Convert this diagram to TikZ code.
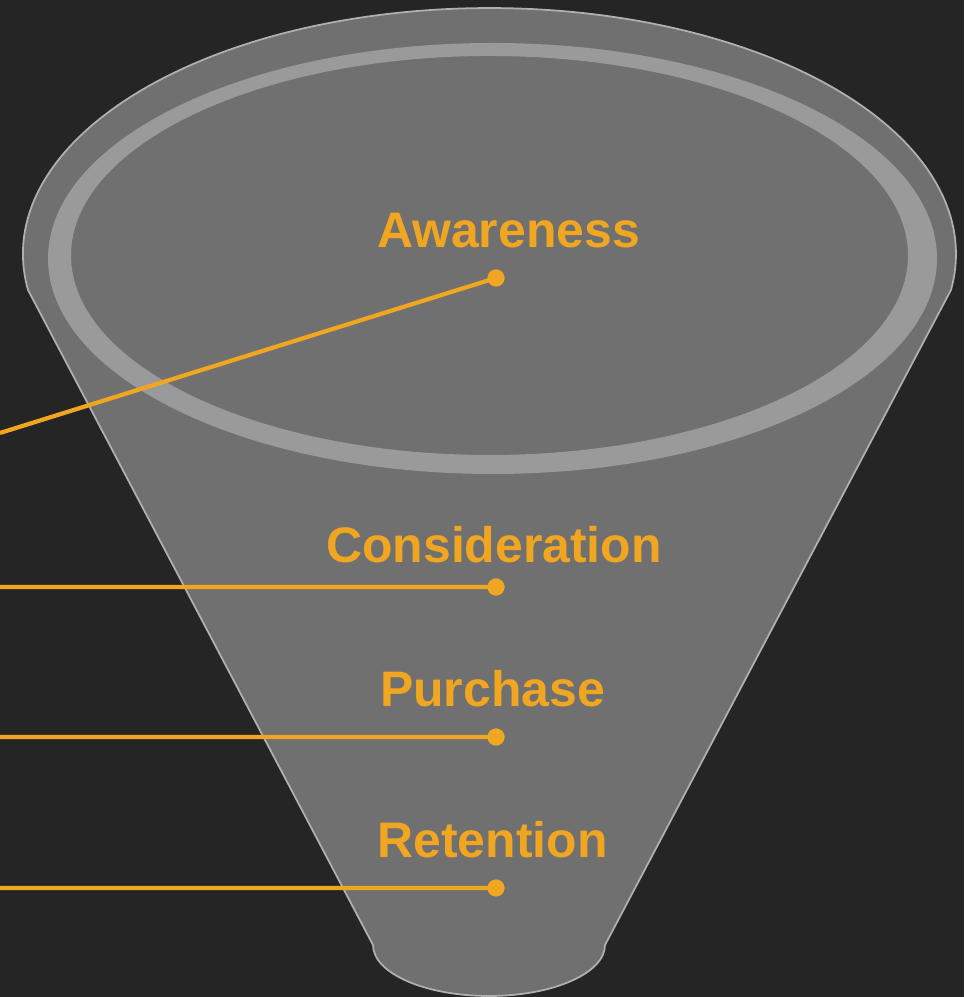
\documentclass[tikz,border=0pt]{standalone}
\usepackage{fontspec}
\setmainfont{Liberation Sans}
\usepackage{xcolor}
\definecolor{bgdark}{RGB}{37,37,37}
\definecolor{funnelgray}{RGB}{112,112,112}
\definecolor{ringgray}{RGB}{154,154,154}
\definecolor{rimline}{RGB}{176,176,176}
\definecolor{leadorange}{RGB}{241,166,33}
\usetikzlibrary{calc}

\begin{document}
\begin{tikzpicture}[
     funnel/.style = {fill=funnelgray, draw=rimline, line width=0.5pt},
       ring/.style = {fill=ringgray, even odd rule},
      stage/.style = {text=leadorange, anchor=base, inner sep=0pt,
                      font=\fontsize{14.2}{17}\selectfont\bfseries},
       lead/.style = {draw=leadorange, line width=1.2pt},
        dot/.style = {circle, fill=leadorange, inner sep=0pt, minimum size=0.17cm}
                    ]
\useasboundingbox (0,0) rectangle (9.64,9.97);
\fill[bgdark] (0,0) rectangle (9.64,9.97);

% funnel body
\path[funnel] (0.28,7.07)
        arc[start angle=188.4, end angle=-8.4, x radius=4.665, y radius=2.46]
        -- (6.05,0.52)
        arc[start angle=0, end angle=-180, x radius=1.16, y radius=0.51]
        -- cycle;
\path[ring] (4.925,7.385) ellipse [x radius=4.445, y radius=2.155]
            (4.895,7.415) ellipse [x radius=4.185, y radius=1.995];

% stages
\node[stage] (aw)  at (5.085,7.49) {Awareness};
\node[stage] (con) at (4.94,4.34)  {Consideration};
\node[stage] (pur) at (4.925,2.90) {Purchase};
\node[stage] (ret) at (4.925,1.39) {Retention};

\node[dot] (aw-d)  at (4.96,7.19) {};
\node[dot] (con-d) at (4.96,4.10) {};
\node[dot] (pur-d) at (4.96,2.60) {};
\node[dot] (ret-d) at (4.96,1.09) {};

\coordinate (aw-l)  at (0,5.64);
\coordinate (con-l) at (0,4.10);
\coordinate (pur-l) at (0,2.60);
\coordinate (ret-l) at (0,1.09);

\draw[lead] (aw-l)  -- (aw-d.center)
            (con-l) -- (con-d.center)
            (pur-l) -- (pur-d.center)
            (ret-l) -- (ret-d.center);
\foreach \s in {aw,con,pur,ret}
    \node[dot] at (\s-d) {};
\end{tikzpicture}
\end{document}
